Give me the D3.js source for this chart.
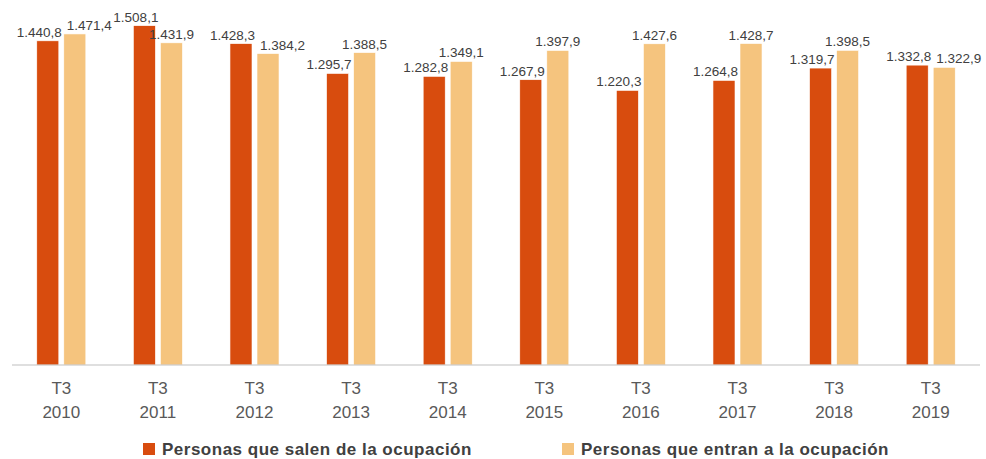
<!DOCTYPE html>
<html><head><meta charset="utf-8">
<script src="https://cdn.jsdelivr.net/npm/d3@7"></script>
<style>body{margin:0;background:#fff}svg{display:block}</style>
</head><body>
<svg id="c" width="986" height="459"></svg>
<script>
const categories = ["T3 2010","T3 2011","T3 2012","T3 2013","T3 2014","T3 2015","T3 2016","T3 2017","T3 2018","T3 2019"];
const seriesNames = ["Personas que salen de la ocupación","Personas que entran a la ocupación"];
const salen = [1440.8,1508.1,1428.3,1295.7,1282.8,1267.9,1220.3,1264.8,1319.7,1332.8];
const entran = [1471.4,1431.9,1384.2,1388.5,1349.1,1397.9,1427.6,1428.7,1398.5,1322.9];
const colors = ["#d84c0e","#f5c47e"];

const svg = d3.select("#c");
const x = d3.scaleBand().domain(categories).range([13,979]);
const x1 = d3.scaleBand().domain([0,1]).range([0,x.bandwidth()]).paddingInner(0.185).paddingOuter(0.88);
const y = d3.scaleLinear().domain([0,1600]).range([365,5]);
const fmt = v => d3.format(",.1f")(v).replace(/,/g,"#").replace(".",",").replace(/#/g,".");
const FONT = "Liberation Sans, Arial, sans-serif";

const series = [salen, entran];
series.forEach((vals,s)=>{
  svg.append("g").selectAll("rect").data(vals).join("rect")
    .attr("x",(d,i)=>x(categories[i])+x1(s))
    .attr("width",x1.bandwidth())
    .attr("y",d=>y(d))
    .attr("height",d=>y(0)-y(d))
    .attr("fill",colors[s])
    .attr("stroke","#fff").attr("stroke-width",0.6);
});

// data labels: red labels end near bar's right edge, beige centered; push apart on collision
const lg = svg.append("g").attr("font-family",FONT).attr("font-size",13.5).attr("fill","#404040");
categories.forEach((c,i)=>{
  const rx = x(c)+x1(0), bx = x(c)+x1(1), bw = x1.bandwidth();
  const ry = y(salen[i])-4, by = y(entran[i])-4;
  const tr = lg.append("text").attr("y",ry).text(fmt(salen[i]));
  const tb = lg.append("text").attr("y",by).text(fmt(entran[i]));
  const wr = tr.node().getComputedTextLength(), wb = tb.node().getComputedTextLength();
  let rEnd = rx+bw+3;
  let bStart = bx+bw/2-wb/2;
  if (Math.abs(ry-by) < 13 && bStart < rEnd+5) bStart = rEnd+5;
  tr.attr("x",rEnd-wr);
  tb.attr("x",bStart);
});

// axis
const ax = svg.append("g").attr("transform","translate(0,365)")
  .call(d3.axisBottom(x).tickSize(0).tickFormat(""));
ax.select(".domain").attr("stroke","#bfbfbf").attr("stroke-width",1.2).attr("d","M12,0H980");
ax.selectAll(".tick").each(function(d){
  const parts = d.split(" ");
  const t = d3.select(this).append("text")
    .attr("text-anchor","middle").attr("fill","#595959")
    .attr("font-family",FONT).attr("font-size",17);
  t.append("tspan").attr("x",0).attr("y",29).text(parts[0]);
  t.append("tspan").attr("x",0).attr("y",53).text(parts[1]);
});

// legend
const legX = [143, 562];
seriesNames.forEach((n,i)=>{
  svg.append("rect").attr("x",legX[i]).attr("y",443).attr("width",12).attr("height",12).attr("fill",colors[i]);
  svg.append("text").attr("x",legX[i]+19).attr("y",454.5)
    .attr("font-family",FONT).attr("font-size",17).attr("letter-spacing",0.5)
    .attr("font-weight","bold").attr("fill","#404040").text(n);
});
</script>
</body></html>
